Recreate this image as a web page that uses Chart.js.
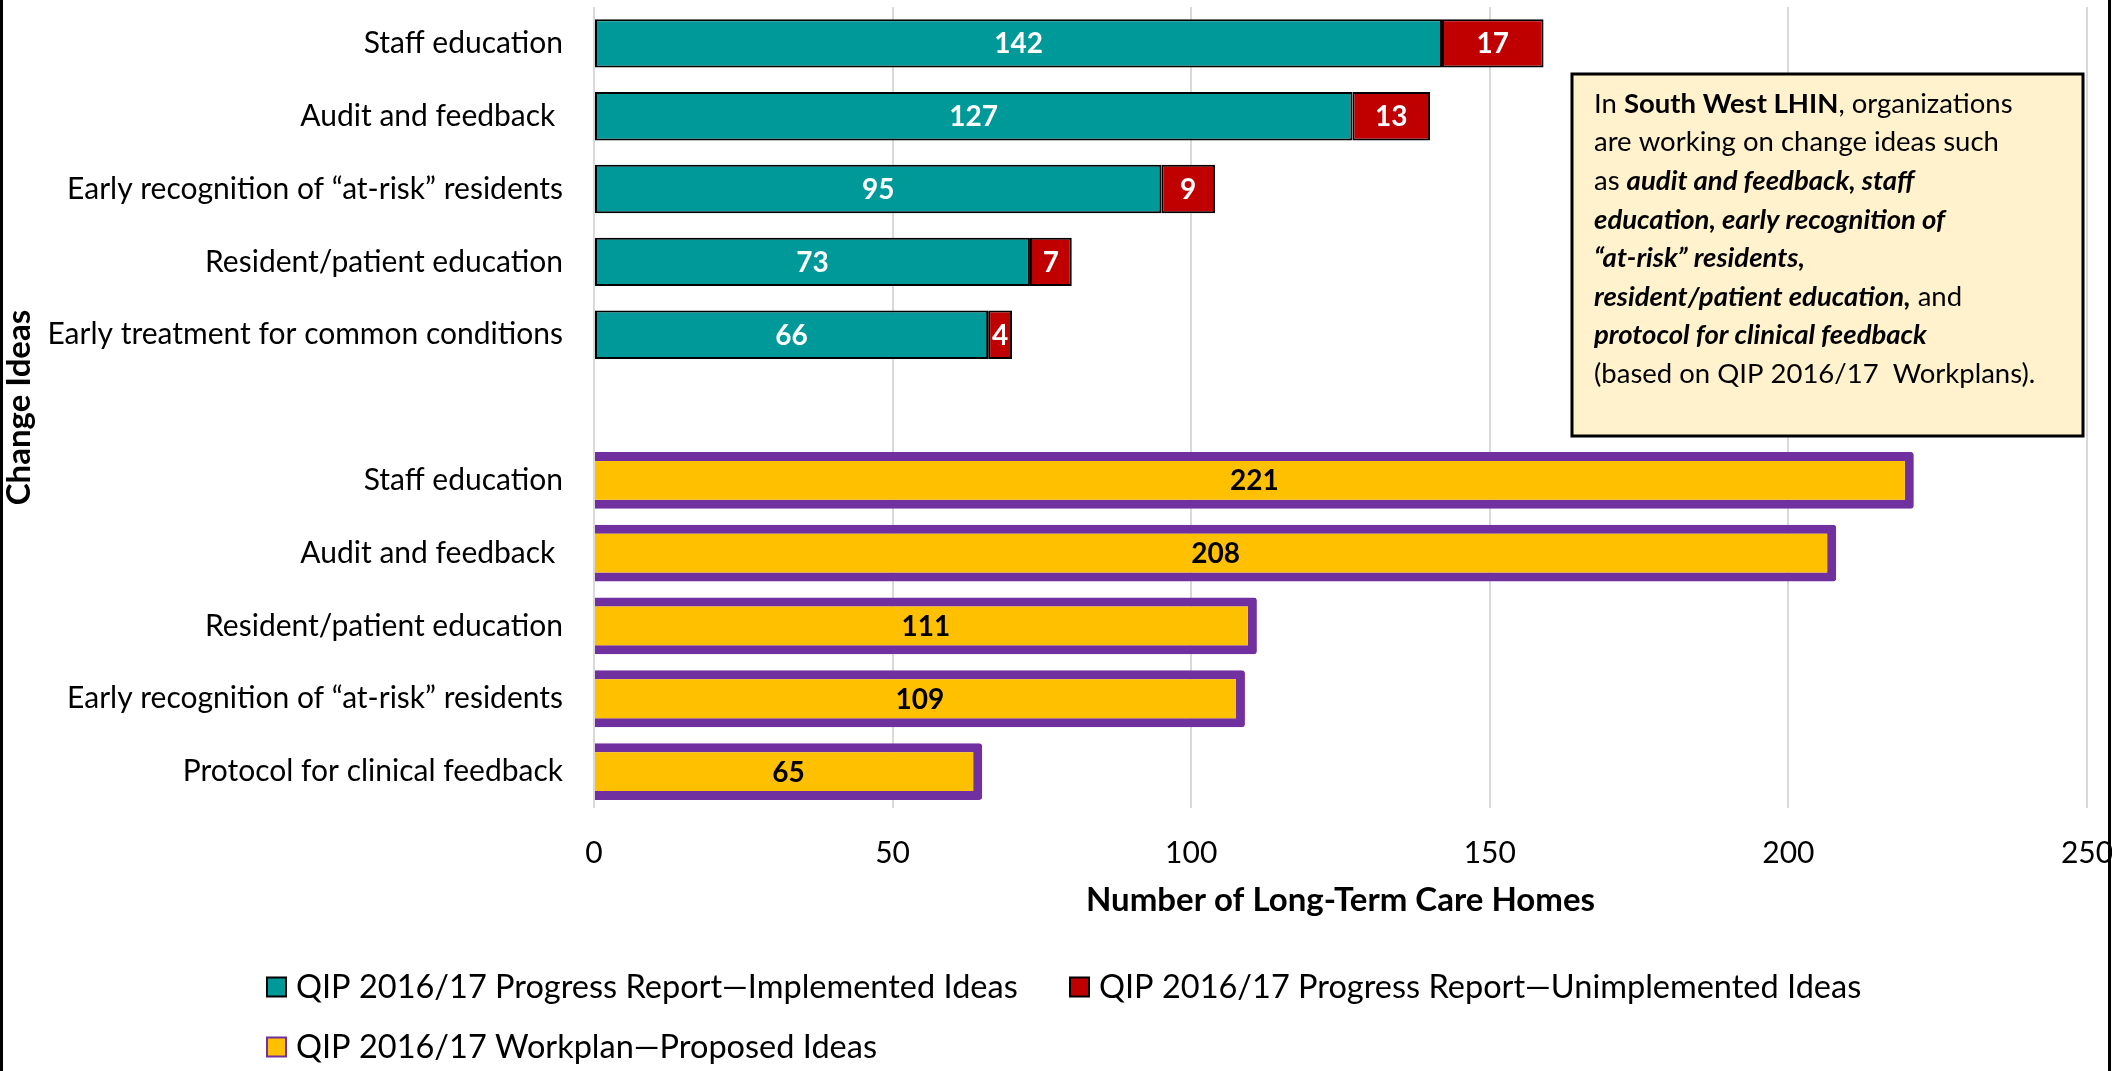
<!DOCTYPE html>
<html>
<head>
<meta charset="utf-8">
<script src="https://cdn.jsdelivr.net/npm/chart.js@4.4.1/dist/chart.umd.min.js"></script>
<style>
  html, body { margin: 0; padding: 0; background: #fff; }
  #wrap { width: 2112px; height: 1071px; }
</style>
</head>
<body>
<div id="wrap"><canvas id="chart" width="2112" height="1071"></canvas></div>
<script>
const categories = [
  'Staff education',
  'Audit and feedback ',
  'Early recognition of “at-risk” residents',
  'Resident/patient education',
  'Early treatment for common conditions',
  '',
  'Staff education',
  'Audit and feedback ',
  'Resident/patient education',
  'Early recognition of “at-risk” residents',
  'Protocol for clinical feedback'
];
const implemented   = [142, 127, 95, 73, 66, null, null, null, null, null, null];
const unimplemented = [17, 13, 9, 7, 4, null, null, null, null, null, null];
const proposed      = [null, null, null, null, null, null, 221, 208, 111, 109, 65];
const xTicks = [0, 50, 100, 150, 200, 250];
const seriesNames = [
  'QIP 2016/17 Progress Report\u2014Implemented Ideas',
  'QIP 2016/17 Progress Report\u2014Unimplemented Ideas',
  'QIP 2016/17 Workplan\u2014Proposed Ideas'
];

// callout text, one entry per line: [text, style]
const noteLines = [
  [['In ', 'n'], ['South West LHIN', 'b'], [', organizations', 'n']],
  [['are working on change ideas such', 'n']],
  [['as ', 'n'], ['audit and feedback, staff', 'bi']],
  [['education, early recognition of', 'bi']],
  [['“at-risk” residents,', 'bi']],
  [['resident/patient education,', 'bi'], [' and', 'n']],
  [['protocol for clinical feedback', 'bi']],
  [['(based on QIP 2016/17  Workplans).', 'n']]
];

const FONT = 'Lato';
const teal = '#009999', red = '#C00000', yellow = '#FFC000', purple = '#7030A0';

const extras = {
  id: 'extras',
  beforeDraw(chart) {
    const ctx = chart.ctx;
    ctx.save();
    ctx.fillStyle = '#fff';
    ctx.fillRect(0, 0, chart.width, chart.height);
    ctx.restore();
  },
  afterDatasetsDraw(chart) {
    const ctx = chart.ctx;
    ctx.save();
    ctx.font = `bold 28px ${FONT}`;
    ctx.textAlign = 'center';
    ctx.textBaseline = 'middle';
    chart.data.datasets.forEach((ds, i) => {
      const meta = chart.getDatasetMeta(i);
      meta.data.forEach((bar, j) => {
        const v = ds.data[j];
        if (v == null) return;
        const p = bar.getProps(['x', 'y', 'base'], true);
        ctx.fillStyle = ds.labelColor;
        ctx.fillText(v, (p.x + p.base) / 2, p.y + 1);
      });
    });
    ctx.restore();
  },
  afterDraw(chart) {
    const ctx = chart.ctx;
    ctx.save();

    // callout box
    ctx.fillStyle = '#FFF2CC';
    ctx.fillRect(1572, 74, 511, 362);
    ctx.strokeStyle = '#000';
    ctx.lineWidth = 3;
    ctx.strokeRect(1572, 74, 511, 362);
    const styles = {
      n: `27.5px ${FONT}`,
      b: `bold 27.5px ${FONT}`,
      bi: `italic bold 27.5px ${FONT}`
    };
    ctx.fillStyle = '#000';
    ctx.textBaseline = 'middle';
    ctx.textAlign = 'left';
    noteLines.forEach((line, i) => {
      let x = 1594;
      const y = 104 + i * 38.6;
      line.forEach(([txt, st]) => {
        ctx.font = styles[st];
        ctx.fillText(txt, x, y);
        x += ctx.measureText(txt).width;
      });
    });

    // legend
    const spots = [{x: 267, y: 987}, {x: 1070, y: 987}, {x: 267, y: 1047}];
    ctx.font = `32.5px ${FONT}`;
    chart.data.datasets.forEach((ds, i) => {
      const s = spots[i];
      ctx.fillStyle = ds.backgroundColor;
      ctx.fillRect(s.x, s.y - 9.5, 19, 19);
      ctx.strokeStyle = i === 2 ? purple : '#000';
      ctx.lineWidth = 2;
      ctx.strokeRect(s.x, s.y - 9.5, 19, 19);
      ctx.fillStyle = '#000';
      ctx.fillText(ds.label, s.x + 29, s.y + 1);
    });

    // outer frame lines
    ctx.fillStyle = '#000';
    ctx.fillRect(0, 0, 3, chart.height);
    ctx.fillRect(2108, 0, 3, chart.height);
    ctx.restore();
  }
};

new Chart(document.getElementById('chart'), {
  type: 'bar',
  data: {
    labels: categories,
    datasets: [
      {
        label: seriesNames[0],
        data: implemented,
        backgroundColor: teal,
        borderColor: '#000',
        borderWidth: 2,
        borderSkipped: false,
        barPercentage: 0.665,
        categoryPercentage: 1,
        labelColor: '#fff'
      },
      {
        label: seriesNames[1],
        data: unimplemented,
        backgroundColor: red,
        borderColor: '#000',
        borderWidth: 2,
        borderSkipped: false,
        barPercentage: 0.665,
        categoryPercentage: 1,
        labelColor: '#fff'
      },
      {
        label: seriesNames[2],
        data: proposed,
        backgroundColor: yellow,
        borderColor: purple,
        borderWidth: 9,
        borderRadius: 3,
        borderSkipped: 'start',
        barPercentage: 0.78,
        categoryPercentage: 1,
        labelColor: '#000'
      }
    ]
  },
  options: {
    indexAxis: 'y',
    responsive: false,
    animation: false,
    devicePixelRatio: 1,
    layout: { padding: { top: 7, right: 25, bottom: 151, left: 0 } },
    plugins: {
      legend: { display: false },
      tooltip: { enabled: false }
    },
    scales: {
      x: {
        stacked: true,
        min: 0,
        max: 250,
        afterBuildTicks: s => { s.ticks = xTicks.map(v => ({ value: v })); },
        afterFit: s => { s.height = 112; s.paddingLeft = 0; s.paddingRight = 0; },
        grid: { color: '#D9D9D9', lineWidth: 2, drawTicks: false },
        border: { display: false },
        ticks: { color: '#000', font: { family: FONT, size: 30 }, padding: 27, maxRotation: 0 },
        title: {
          display: true,
          text: 'Number of Long-Term Care Homes',
          color: '#000',
          font: { family: FONT, size: 33, weight: 'bold' },
          padding: { top: 9, bottom: 0 }
        }
      },
      y: {
        stacked: true,
        afterFit: s => { s.width = 594; s.paddingTop = 0; s.paddingBottom = 0; },
        grid: { display: false, drawTicks: false },
        border: { display: false },
        ticks: { color: '#000', font: { family: FONT, size: 30 }, padding: 31, autoSkip: false },
        title: {
          display: true,
          text: 'Change Ideas',
          color: '#000',
          font: { family: FONT, size: 33, weight: 'bold' },
          padding: 0
        }
      }
    }
  },
  plugins: [extras]
});
</script>
</body>
</html>
